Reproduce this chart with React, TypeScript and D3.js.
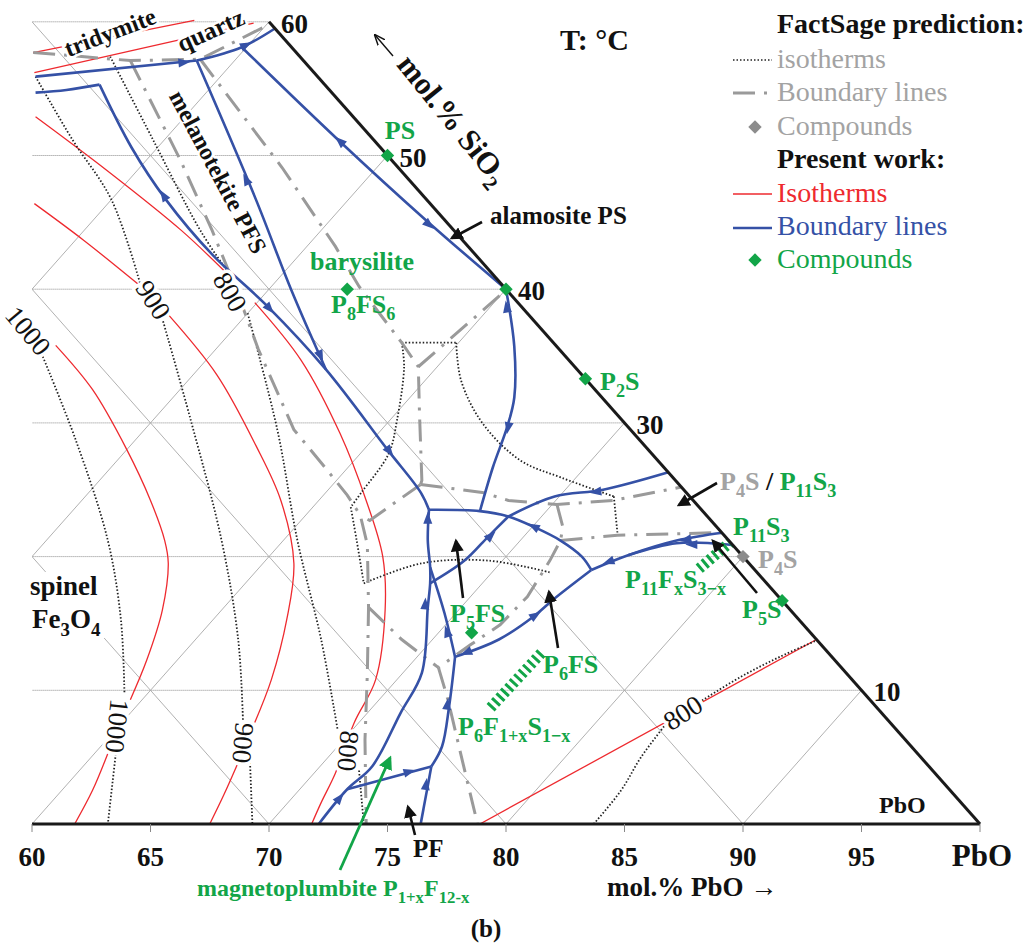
import React from "react";
import * as d3 from "d3";

// compositions are [PbO, SiO2] in mol.% (rest = iron oxide)
const W = 1027;
const H = 943;
const SERIF = "'Liberation Serif', 'Times New Roman', serif";

const pboTicks = [60, 65, 70, 75, 80, 85, 90, 95, 100];
const pboTickLabels = ["60", "65", "70", "75", "80", "85", "90", "95"];
const sio2Labels = [60, 50, 40, 30, 10];
const gridSiO2 = [10, 20, 30, 40, 50, 60];
const gridPbO = [40, 50, 60, 70, 80, 90];
const gridFe = [10, 20, 30];

// FactSage isotherms (dotted)
const fsIso1000 = [
  [[42.8, 35.2], [47.5, 28.7], [52.6, 21.2], [56.1, 15.3], [59.0, 9.8]],
  [[60.8, 5.5], [63.2, 0]],
];
const fsIso900 = [
  [[32.2, 55.9], [36.1, 51.2], [40.0, 46.7], [44.3, 40.5]],
  [[46.4, 38.1], [51.6, 30.2], [57.4, 21.2], [61.8, 13.8], [65.0, 7.8]],
  [[66.9, 4.6], [69.3, 0]],
];
const fsIso800 = [
  [[34.6, 57.4], [39.5, 51.2], [44.9, 44.4], [47.7, 41.2]],
  [[50.0, 38.2], [55.6, 29.5], [60.6, 21.2], [65.3, 13.8], [69.4, 7.0]],
  [[71.8, 4.0], [74.0, 0]],
];
const fsIso800Pb = [
  [[57.6, 36.0], [59.9, 36.0]],
  [[59.9, 36.0], [61.5, 33.2], [64.0, 30.0], [67.0, 27.2], [69.4, 25.9], [72.3, 24.5]],
  [[72.3, 24.5], [73.8, 21.8]],
  [[57.6, 36.0], [58.6, 34.2], [60.3, 30.2], [61.2, 27.7], [61.5, 24.8], [61.6, 23.7]],
  [[61.6, 23.7], [63.1, 21.2], [65.0, 18.0]],
  [[65.0, 18.0], [66.7, 19.5], [69.4, 19.7], [72.5, 18.8]],
];
const fsIso800Corner = [
  [[83.7, 0], [83.6, 2.5], [83.2, 5.0], [83.0, 7.6]],
  [[83.6, 9.1], [84.4, 11.0], [85.3, 12.5], [86.3, 13.8]],
];

// present work isotherms (red)
const pwIso1000 = [
  [[43.1, 35.8], [46.3, 32.5], [50.0, 28.0], [52.9, 24.2], [55.0, 21.2], [56.0, 19.5], [57.5, 16.0], [58.7, 12.3], [59.5, 9.3]],
  [[60.5, 5.5], [61.3, 2.5], [61.8, 0]],
];
const pwIso900 = [
  [[36.9, 46.4], [40.3, 43.7], [44.5, 40.2]],
  [[46.7, 38.1], [51.0, 33.6], [55.3, 28.3], [58.4, 24.2], [61.3, 19.5], [63.1, 15.3], [64.7, 10.8], [65.6, 7.6]],
  [[66.4, 4.6], [67.0, 2.2], [67.5, 0]],
];
const pwIso800 = [
  [[33.7, 52.9], [38.7, 48.9], [44.1, 44.4], [47.5, 41.3]],
  [[49.9, 39.0], [54.0, 34.7], [58.4, 29.2], [62.0, 24.2], [64.8, 20.0], [66.9, 16.0], [69.1, 10.8], [69.8, 7.6], [70.9, 3.8], [71.4, 1.6], [71.8, 0]],
];
const pwIso800Corner = [[[78.9, 0], [86.2, 13.8]]];
const pwIsoSilica = [
  [[31.2, 57.7], [36.8, 60.1]],
  [[32.0, 56.2], [39.4, 59.9]],
];

// FactSage boundary lines (grey dash-dot)
const fsBoundaries = [
  [[31.2, 57.7], [33.4, 57.4], [35.6, 57.1], [38.5, 57.2], [40.1, 59.8]],
  [[35.6, 57.1], [41.4, 49.7], [45.4, 44.4], [48.9, 39.6], [51.8, 35.5], [56.3, 29.5], [59.0, 26.7], [61.0, 24.6], [62.3, 23.1], [63.7, 20.9], [66.1, 16.2], [68.5, 11.3], [70.9, 6.3], [74.1, 0]],
  [[38.5, 57.2], [46.0, 49.1], [51.2, 43.2], [53.7, 40.2], [57.6, 36.0], [59.2, 34.2], [61.0, 30.7], [63.6, 25.7], [63.7, 25.4]],
  [[59.2, 34.2], [60.0, 39.7]],
  [[63.7, 25.4], [62.9, 22.7], [62.3, 23.1]],
  [[63.7, 25.4], [66.6, 24.8], [68.0, 24.2], [70.2, 23.9], [72.4, 24.2], [74.8, 25.2]],
  [[70.2, 23.9], [71.3, 22.2], [71.7, 21.2], [72.0, 19.7], [72.4, 17.0], [72.3, 14.9], [71.8, 13.4], [71.3, 11.7]],
  [[71.7, 21.2], [73.9, 21.6], [78.3, 21.8]],
  [[66.1, 16.2], [68.7, 13.8], [71.3, 11.7]],
  [[71.3, 11.7], [72.9, 9.3], [74.8, 6.3], [76.7, 3.3], [78.8, 0]],
];

// present work boundary lines (blue)
const pwBoundaries = [
  [[32.2, 55.9], [38.4, 57.1]],
  [[38.4, 57.1], [39.8, 58.1], [40.5, 59.5]],
  [[32.8, 54.7], [34.0, 54.9], [35.2, 55.3]],
  [[35.2, 55.3], [38.9, 50.6], [42.3, 46.7], [46.3, 42.6], [50.6, 38.7], [55.4, 34.0], [61.0, 28.0], [64.0, 24.8], [65.0, 23.5]],
  [[38.4, 57.1], [46.1, 46.7], [51.0, 39.9], [55.4, 34.0]],
  [[39.8, 58.1], [47.3, 51.2], [54.0, 45.2], [60.0, 40.0]],
  [[60.0, 40.0], [62.5, 35.7], [64.4, 31.9], [65.2, 29.7], [66.1, 26.7], [67.2, 23.4]],
  [[65.0, 23.5], [67.2, 23.4], [68.6, 23.0], [70.1, 22.2], [71.7, 21.2], [73.2, 20.0], [74.1, 19.0]],
  [[68.6, 23.0], [69.8, 24.5], [71.6, 25.0], [73.7, 26.3]],
  [[68.6, 23.0], [68.5, 21.5], [68.4, 19.7], [67.8, 18.0]],
  [[65.0, 23.5], [66.1, 21.2], [67.2, 19.2], [67.8, 18.0], [68.6, 16.2], [70.8, 11.3], [71.4, 8.3], [72.2, 4.3], [72.0, 2.6], [72.1, 0]],
  [[67.2, 19.2], [69.5, 15.8], [71.6, 12.5]],
  [[71.6, 12.5], [73.2, 8.8], [74.4, 5.8], [74.7, 4.3]],
  [[74.7, 4.3], [72.0, 2.6]],
  [[74.7, 4.3], [76.4, 0]],
  [[71.6, 12.5], [72.8, 13.8], [73.4, 15.5], [73.6, 16.8], [74.1, 19.0]],
  [[74.1, 19.0], [75.1, 20.1], [76.6, 21.2], [78.3, 21.8]],
  [[75.1, 20.1], [76.7, 21.0], [78.9, 20.9], [79.3, 20.8]],
];

// direction arrows on blue lines: [tip, from]
const flowArrows = [
  [[38.1, 57.0], [37.1, 56.8]],
  [[40.0, 58.4], [39.8, 58.1]],
  [[41.8, 47.3], [43.0, 45.9]],
  [[51.0, 38.3], [49.2, 40.1]],
  [[44.7, 48.5], [46.1, 46.7]],
  [[54.9, 34.7], [51.0, 39.9]],
  [[47.2, 51.3], [49.1, 49.6]],
  [[54.6, 44.6], [52.2, 46.7]],
  [[60.5, 39.0], [61.5, 37.3]],
  [[65.4, 29.3], [64.4, 31.9]],
  [[61.4, 27.6], [58.6, 30.6]],
  [[65.1, 23.2], [65.7, 22.0]],
  [[69.8, 22.4], [71.7, 21.2]],
  [[71.2, 24.8], [72.3, 25.1]],
  [[68.6, 21.8], [68.4, 19.7]],
  [[68.2, 16.8], [69.6, 13.8]],
  [[70.1, 14.7], [71.6, 12.5]],
  [[71.8, 12.7], [72.8, 13.8]],
  [[73.5, 15.8], [72.8, 13.8]],
  [[72.9, 9.3], [74.4, 5.8]],
  [[74.1, 4.0], [72.0, 2.6]],
  [[75.0, 3.3], [76.4, 0]],
  [[72.0, 2.2], [72.1, 0]],
  [[74.4, 19.5], [75.1, 20.1]],
  [[76.8, 21.2], [78.3, 21.8]],
  [[77.2, 20.9], [78.9, 20.9]],
];

// solid-solution bands (green hatching)
const ssBands = [
  [[78.6, 19.1], [79.0, 21.5]],
  [[75.0, 8.7], [75.1, 12.8]],
];

const greenCompounds = [[50, 50], [60, 40], [66.7, 33.3], [83.3, 16.7], [53.3, 40], [71.4, 14.3]];
const greyCompounds = [[80, 20]];

const pbo = d3.scaleLinear().domain([60, 100]).range([32, 980]);
const sio2 = d3.scaleLinear().domain([0, 60]).range([824, 21.8]);
const X = (d: number[]) => pbo(d[0] + d[1] / 2);
const Y = (d: number[]) => sio2(d[1]);

const lineLin = d3.line<number[]>().x(X).y(Y);
const lineSmooth = d3.line<number[]>().x(X).y(Y).curve(d3.curveCatmullRom.alpha(0.5));

const C = {
  red: "#ee2a2f",
  blue: "#3551a6",
  green: "#12a548",
  grey: "#9a9a9a",
  greyText: "#a3a3a3",
  grid: "#a8a8a8",
};

function Formula({ x, y, parts, size, fill, anchor = "start", weight = "bold" }: any) {
  let shifted = false;
  return (
    <text x={x} y={y} fontSize={size} fill={fill} fontWeight={weight} textAnchor={anchor}>
      {parts.map((p: any, i: number) => {
        const [t, sub, col] = p;
        let dy = 0;
        if (sub && !shifted) { dy = size * 0.28; shifted = true; }
        else if (!sub && shifted) { dy = -size * 0.28; shifted = false; }
        return (
          <tspan key={i} dy={dy} fontSize={sub ? size * 0.7 : size} fill={col || fill}>{t}</tspan>
        );
      })}
    </text>
  );
}

function Halo({ x, y, r, text, size = 27 }: any) {
  return (
    <text
      transform={`translate(${x},${y}) rotate(${r})`}
      fontSize={size}
      textAnchor="middle"
      dominantBaseline="central"
      stroke="#fff"
      strokeWidth={7}
      paintOrder="stroke"
      fill="#111"
    >
      {text}
    </text>
  );
}

export default function App() {
  const clipPts = [[60, 0], [100, 0], [39.5, 60.5], [29.75, 60.5]].map((d) => [X(d), Y(d)]);
  const clipD = "M" + clipPts.map((p) => p.join(",")).join("L") + "Z";

  const legendRows = [33, 68, 101, 135, 168, 202, 235, 268];
  const LX = 777;

  const diamond = d3.symbol(d3.symbolSquare, 90)();

  const arrowHead = (tip: number[], from: number[], fill: string, key: any) => {
    const x1 = X(tip), y1 = Y(tip), x0 = X(from), y0 = Y(from);
    const a = (Math.atan2(y1 - y0, x1 - x0) * 180) / Math.PI;
    return <path key={key} d="M2,0L-10,-4.5L-10,4.5Z" fill={fill} transform={`translate(${x1},${y1}) rotate(${a})`} />;
  };

  return (
    <svg width={W} height={H} style={{ position: "absolute", left: 0, top: 0, background: "#fff" }} fontFamily={SERIF}>
      <defs>
        <clipPath id="tri">
          <path d={clipD} />
        </clipPath>
        <marker id="ah" viewBox="0 0 10 10" refX="8" refY="5" markerWidth="5" markerHeight="5" orient="auto">
          <path d="M0,0L10,5L0,10Z" fill="#111" />
        </marker>
        <marker id="ahs" viewBox="0 0 10 10" refX="9" refY="5" markerWidth="8" markerHeight="8" orient="auto">
          <path d="M0,1L10,5L0,9" fill="none" stroke="#111" strokeWidth={1.3} />
        </marker>
        <marker id="ahg" viewBox="0 0 10 10" refX="8" refY="5" markerWidth="5" markerHeight="5" orient="auto">
          <path d="M0,0L10,5L0,10Z" fill={C.green} />
        </marker>
      </defs>

      <g clipPath="url(#tri)">
        {/* grid */}
        {gridSiO2.map((s) => (
          <path key={"h" + s} d={lineLin([[60 - s / 2 - 2, s], [100 - s, s]]) || ""} stroke="#8a8a8a" strokeWidth={1} strokeDasharray="1,1" fill="none" />
        ))}
        {gridPbO.map((p) => (
          <path key={"p" + p} d={lineLin([[p, 0], [p, 100 - p]]) || ""} stroke={C.grid} strokeWidth={0.9} fill="none" />
        ))}
        {gridFe.map((f) => (
          <path key={"f" + f} d={lineLin([[100 - f, 0], [100 - f - 70, 70]]) || ""} stroke={C.grid} strokeWidth={0.9} fill="none" />
        ))}

        {/* present-work isotherms */}
        {[...pwIso1000, ...pwIso900, ...pwIso800, ...pwIsoSilica].map((seg, i) => (
          <path key={"r" + i} d={lineSmooth(seg) || ""} stroke={C.red} strokeWidth={1.3} fill="none" />
        ))}
        {pwIso800Corner.map((seg, i) => (
          <path key={"rc" + i} d={lineLin(seg) || ""} stroke={C.red} strokeWidth={1.3} fill="none" />
        ))}

        {/* FactSage isotherms */}
        {[...fsIso1000, ...fsIso900, ...fsIso800, ...fsIso800Corner, ...fsIso800Pb].map((seg, i) => (
          <path key={"d" + i} d={lineSmooth(seg) || ""} stroke="#222" strokeWidth={1.8} strokeDasharray="1.5,2" fill="none" />
        ))}

        {/* FactSage boundary lines */}
        {fsBoundaries.map((seg, i) => (
          <path key={"g" + i} d={lineLin(seg) || ""} stroke={C.grey} strokeWidth={3} strokeDasharray="22,9,3,9" fill="none" />
        ))}

        {/* present-work boundary lines */}
        {pwBoundaries.map((seg, i) => (
          <path key={"b" + i} d={lineSmooth(seg) || ""} stroke={C.blue} strokeWidth={2.6} fill="none" strokeLinejoin="round" />
        ))}
        {flowArrows.map((a, i) => arrowHead(a[0], a[1], C.blue, "a" + i))}

        {/* solid solution bands */}
        {ssBands.map((seg, i) => (
          <path key={"ss" + i} d={lineLin(seg) || ""} stroke={C.green} strokeWidth={11} strokeDasharray="3,3.5" fill="none" />
        ))}
      </g>

      {/* axes */}
      <path d={lineLin([[60, 0], [100, 0]]) || ""} stroke="#1a1a1a" strokeWidth={3} fill="none" />
      <path d={lineLin([[100, 0], [40, 60]]) || ""} stroke="#1a1a1a" strokeWidth={3} fill="none" />
      {pboTicks.map((t) => (
        <line key={"t" + t} x1={pbo(t)} x2={pbo(t)} y1={sio2(0)} y2={sio2(0) + 8} stroke="#888" strokeWidth={1} />
      ))}
      {pboTickLabels.map((t) => (
        <text key={"tl" + t} x={pbo(+t)} y={866} fontSize={27} fontWeight="bold" textAnchor="middle" fill="#111">{t}</text>
      ))}
      <text x={982} y={866} fontSize={31} fontWeight="bold" textAnchor="middle" fill="#111">PbO</text>
      <text x={607} y={896} fontSize={27} fontWeight="bold" fill="#111">mol.% PbO →</text>
      <text x={486} y={937} fontSize={25} fontWeight="bold" textAnchor="middle" fill="#111">(b)</text>
      <text x={879} y={813} fontSize={24} fontWeight="bold" fill="#111">PbO</text>

      {sio2Labels.map((s) => (
        <text key={"s" + s} x={X([100 - s, s]) + 12} y={Y([0, s]) + 11} fontSize={27} fontWeight="bold" fill="#111">{s}</text>
      ))}
      <line x1={393} y1={56} x2={375} y2={35} stroke="#111" strokeWidth={1.4} markerEnd="url(#ahs)" />
      <text transform="translate(445,126) rotate(51)" fontSize={31} fontWeight="bold" textAnchor="middle" fill="#111">
        mol.% SiO<tspan dy={8} fontSize={21}>2</tspan>
      </text>
      <text x={560} y={50} fontSize={30} fontWeight="bold" fill="#111">T: °C</text>

      {/* compounds */}
      {greenCompounds.map((d, i) => (
        <path key={"gc" + i} d={diamond || ""} fill={C.green} transform={`translate(${X(d)},${Y(d)}) rotate(45)`} />
      ))}
      {greyCompounds.map((d, i) => (
        <path key={"yc" + i} d={diamond || ""} fill="#8c8c8c" transform={`translate(${X(d)},${Y(d)}) rotate(45)`} />
      ))}

      {/* isotherm labels */}
      <Halo x={28} y={331} r={50} text="1000" />
      <Halo x={153} y={300} r={57} text="900" />
      <Halo x={230} y={292} r={60} text="800" />
      <Halo x={117} y={726} r={96} text="1000" />
      <Halo x={243} y={743} r={95} text="900" />
      <Halo x={348} y={751} r={95} text="800" />
      <Halo x={683} y={713} r={-33} text="800" />

      {/* phase field names */}
      <g fontWeight="bold" fill="#111" fontSize={25}>
        <text transform="translate(113,40) rotate(-21)" textAnchor="middle" fontSize={24} stroke="#fff" strokeWidth={5} paintOrder="stroke">tridymite</text>
        <text transform="translate(214,38) rotate(-24)" textAnchor="middle" stroke="#fff" strokeWidth={5} paintOrder="stroke">quartz</text>
        <text transform="translate(218,172) rotate(62)" textAnchor="middle" dominantBaseline="central" fontSize={24} stroke="#fff" strokeWidth={5} paintOrder="stroke">melanotekite PFS</text>
        <text x={490} y={224}>alamosite PS</text>
        <text x={413} y={857}>PF</text>
      </g>
      <rect x={28} y={572} width={80} height={66} fill="#fff" />
      <text x={30} y={595} fontSize={27} fontWeight="bold" fill="#111">spinel</text>
      <Formula x={32} y={628} size={27} fill="#111" parts={[["Fe"], ["3", true], ["O"], ["4", true]]} />

      <text x={362} y={270} fontSize={26} fontWeight="bold" fill={C.green} textAnchor="middle">barysilite</text>
      <Formula x={331} y={313} size={26} fill={C.green} parts={[["P"], ["8", true], ["FS"], ["6", true]]} />
      <text x={400} y={139} fontSize={26} fontWeight="bold" fill={C.green} textAnchor="middle">PS</text>
      <Formula x={600} y={390} size={26} fill={C.green} parts={[["P"], ["2", true], ["S"]]} />
      <Formula x={720} y={490} size={26} fill={C.greyText} parts={[["P"], ["4", true], ["S"], [" / ", false, "#111"], ["P", false, C.green], ["11", true, C.green], ["S", false, C.green], ["3", true, C.green]]} />
      <Formula x={733} y={535} size={26} fill={C.green} parts={[["P"], ["11", true], ["S"], ["3", true]]} />
      <Formula x={758} y={568} size={26} fill={C.greyText} parts={[["P"], ["4", true], ["S"]]} />
      <Formula x={625} y={588} size={26} fill={C.green} parts={[["P"], ["11", true], ["F"], ["x", true], ["S"], ["3−x", true]]} />
      <Formula x={742} y={618} size={26} fill={C.green} parts={[["P"], ["5", true], ["S"]]} />
      <Formula x={450} y={622} size={26} fill={C.green} parts={[["P"], ["5", true], ["FS"]]} />
      <Formula x={543} y={673} size={26} fill={C.green} parts={[["P"], ["6", true], ["FS"]]} />
      <Formula x={458} y={735} size={26} fill={C.green} parts={[["P"], ["6", true], ["F"], ["1+x", true], ["S"], ["1−x", true]]} />
      <Formula x={197} y={896} size={24} fill={C.green} parts={[["magnetoplumbite P"], ["1+x", true], ["F"], ["12-x", true]]} />

      {/* annotation arrows */}
      <g stroke="#111" strokeWidth={2.6} markerEnd="url(#ah)">
        <line x1={482} y1={222} x2={452} y2={238} />
        <line x1={717} y1={483} x2={679} y2={505} />
        <line x1={757} y1={593} x2={713} y2={541} />
        <line x1={558} y1={648} x2={549} y2={592} />
        <line x1={463} y1={598} x2={456} y2={541} />
        <line x1={415} y1={835} x2={408} y2={807} />
      </g>
      <line x1={340} y1={870} x2={390} y2={758} stroke={C.green} strokeWidth={2.8} markerEnd="url(#ahg)" />

      {/* legend */}
      <g fontSize={28}>
        <text x={LX} y={legendRows[0]} fontWeight="bold" fill="#111">FactSage prediction:</text>
        <line x1={733} x2={772} y1={60} y2={60} stroke="#222" strokeWidth={1.6} strokeDasharray="1.5,2" />
        <text x={LX} y={legendRows[1]} fill={C.greyText}>isotherms</text>
        <line x1={733} x2={772} y1={93} y2={93} stroke={C.grey} strokeWidth={3} strokeDasharray="22,9,3,9" />
        <text x={LX} y={legendRows[2]} fill={C.greyText}>Boundary lines</text>
        <path d={diamond || ""} fill="#8c8c8c" transform="translate(755,127) rotate(45)" />
        <text x={LX} y={legendRows[3]} fill={C.greyText}>Compounds</text>
        <text x={LX} y={legendRows[4]} fontWeight="bold" fill="#111">Present work:</text>
        <line x1={733} x2={772} y1={194} y2={194} stroke={C.red} strokeWidth={1.3} />
        <text x={LX} y={legendRows[5]} fill={C.red}>Isotherms</text>
        <line x1={733} x2={772} y1={228} y2={228} stroke={C.blue} strokeWidth={2.6} />
        <text x={LX} y={legendRows[6]} fill={C.blue}>Boundary lines</text>
        <path d={diamond || ""} fill={C.green} transform="translate(755,260) rotate(45)" />
        <text x={LX} y={legendRows[7]} fill={C.green}>Compounds</text>
      </g>
    </svg>
  );
}
